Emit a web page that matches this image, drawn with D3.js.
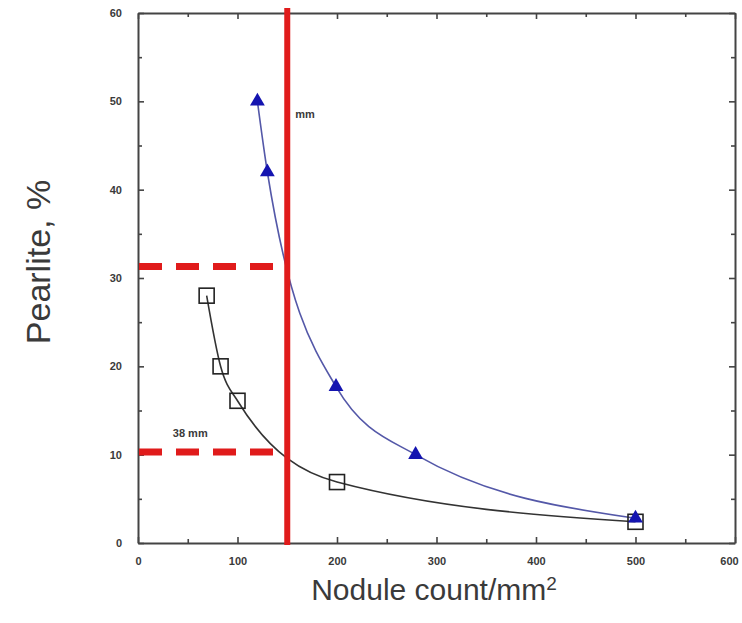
<!DOCTYPE html>
<html>
<head>
<meta charset="utf-8">
<script src="https://cdn.jsdelivr.net/npm/d3@7"></script>
<style>
  html, body { margin: 0; padding: 0; background: #fff; }
  svg { display: block; font-family: "Liberation Sans", Arial, sans-serif; }
</style>
</head>
<body>
<svg id="chart" width="742" height="623"></svg>
<script>
// ---- data ----
const xTickValues = [0, 100, 200, 300, 400, 500, 600];
const yTickValues = [0, 10, 20, 30, 40, 50, 60];
const xMinorTicks = [50, 150, 250, 350, 450, 550];
const yMinorTicks = [5, 15, 25, 35, 45, 55];

const blueX = [120, 130, 199, 279, 500];
const blueY = [50, 42, 17.7, 10, 2.8];

const blackX = [69, 83, 100, 200, 500];
const blackY = [28, 20, 16.1, 6.9, 2.4];

const redLineX = 150;
const dashedY = [31.3, 10.3];

const annotationText = ["mm", "38 mm"];
const annotationX = [158, 35];
const annotationY = [48.5, 12.4];

const xTitle = "Nodule count/mm";
const xTitleSup = "2";
const yTitle = "Pearlite, %";

// ---- chart ----
const svg = d3.select("#chart");
const W = 742, H = 623;
const m = { left: 138, right: 735, top: 13, bottom: 543 };

const x = d3.scaleLinear().domain([0, 600]).range([m.left, m.right]);
const y = d3.scaleLinear().domain([0, 60]).range([m.bottom, m.top]);

svg.append("rect").attr("width", W).attr("height", H).attr("fill", "#fff");

const axisColor = "#444";
function styleAxis(g, labels) {
  g.selectAll(".domain").attr("stroke", axisColor).attr("stroke-width", 2);
  g.selectAll(".tick line").attr("stroke", axisColor).attr("stroke-width", 1.6);
  g.selectAll(".tick text")
    .attr("fill", "#3a3a3a")
    .attr("font-size", 11)
    .attr("font-weight", "bold")
    .attr("font-family", '"Liberation Sans", Arial, sans-serif');
  if (!labels) g.selectAll(".tick text").remove();
}

// bottom
svg.append("g").attr("transform", `translate(0,${m.bottom})`)
  .call(d3.axisBottom(x).tickValues(xTickValues).tickSizeInner(-6).tickSizeOuter(0).tickPadding(14))
  .call(g => {
    styleAxis(g, true);
    g.selectAll(".tick text").filter(d => d === 600).attr("dx", -6);
  });
svg.append("g").attr("transform", `translate(0,${m.bottom})`)
  .call(d3.axisBottom(x).tickValues(xMinorTicks).tickSizeInner(-4).tickSizeOuter(0).tickFormat(""))
  .call(g => { styleAxis(g, false); g.select(".domain").remove(); });
// top
svg.append("g").attr("transform", `translate(0,${m.top})`)
  .call(d3.axisTop(x).tickValues(xTickValues).tickSizeInner(-6).tickSizeOuter(0).tickFormat(""))
  .call(g => styleAxis(g, false));
svg.append("g").attr("transform", `translate(0,${m.top})`)
  .call(d3.axisTop(x).tickValues(xMinorTicks).tickSizeInner(-4).tickSizeOuter(0).tickFormat(""))
  .call(g => { styleAxis(g, false); g.select(".domain").remove(); });
// left
svg.append("g").attr("transform", `translate(${m.left},0)`)
  .call(d3.axisLeft(y).tickValues(yTickValues).tickSizeInner(-6).tickSizeOuter(0).tickPadding(16))
  .call(g => styleAxis(g, true));
svg.append("g").attr("transform", `translate(${m.left},0)`)
  .call(d3.axisLeft(y).tickValues(yMinorTicks).tickSizeInner(-4).tickSizeOuter(0).tickFormat(""))
  .call(g => { styleAxis(g, false); g.select(".domain").remove(); });
// right
svg.append("g").attr("transform", `translate(${m.right},0)`)
  .call(d3.axisRight(y).tickValues(yTickValues).tickSizeInner(-6).tickSizeOuter(0).tickFormat(""))
  .call(g => styleAxis(g, false));
svg.append("g").attr("transform", `translate(${m.right},0)`)
  .call(d3.axisRight(y).tickValues(yMinorTicks).tickSizeInner(-4).tickSizeOuter(0).tickFormat(""))
  .call(g => { styleAxis(g, false); g.select(".domain").remove(); });

// curves
const blackData = blackX.map((v, i) => [v, blackY[i]]);
const blueData = blueX.map((v, i) => [v, blueY[i]]);
const line = d3.line().x(d => x(d[0])).y(d => y(d[1])).curve(d3.curveMonotoneX);

svg.append("path").attr("d", line(blackData))
  .attr("fill", "none").attr("stroke", "#333").attr("stroke-width", 1.6);
svg.append("path").attr("d", line(blueData))
  .attr("fill", "none").attr("stroke", "#5458a8").attr("stroke-width", 1.6);

// red dashed lines
svg.selectAll(".dash").data(dashedY).enter().append("line")
  .attr("x1", x(0) + 1).attr("x2", x(redLineX))
  .attr("y1", d => y(d)).attr("y2", d => y(d))
  .attr("stroke", "#e01b1b").attr("stroke-width", 7)
  .attr("stroke-dasharray", "23,14");

// red vertical line
svg.append("line")
  .attr("x1", x(redLineX)).attr("x2", x(redLineX))
  .attr("y1", y(60) - 5).attr("y2", y(0) + 2)
  .attr("stroke", "#e01b1b").attr("stroke-width", 6);

// markers: squares
svg.selectAll(".sq").data(blackData).enter().append("rect")
  .attr("x", d => x(d[0]) - 7.5).attr("y", d => y(d[1]) - 7.5)
  .attr("width", 15).attr("height", 15)
  .attr("fill", "none").attr("stroke", "#222").attr("stroke-width", 1.6);

// markers: triangles
svg.selectAll(".tri").data(blueData).enter().append("path")
  .attr("d", d3.symbol(d3.symbolTriangle, 95))
  .attr("transform", d => `translate(${x(d[0])},${y(d[1])})`)
  .attr("fill", "#1414b0");

// annotations
svg.selectAll(".ann").data(annotationText).enter().append("text")
  .attr("x", (d, i) => x(annotationX[i]))
  .attr("y", (d, i) => y(annotationY[i]))
  .attr("dy", "0.35em")
  .attr("font-size", 11).attr("font-weight", "bold").attr("fill", "#3a3a3a")
  .text(d => d);

// axis titles
const xt = svg.append("text")
  .attr("x", 434).attr("y", 600)
  .attr("text-anchor", "middle")
  .attr("font-size", 30).attr("fill", "#3a3a3a");
xt.append("tspan").text(xTitle);
xt.append("tspan").attr("dy", "-0.55em").attr("font-size", 19).text(xTitleSup);

svg.append("text")
  .attr("transform", "translate(50,262) rotate(-90)")
  .attr("text-anchor", "middle")
  .attr("font-size", 34).attr("fill", "#3a3a3a")
  .text(yTitle);
</script>
</body>
</html>
